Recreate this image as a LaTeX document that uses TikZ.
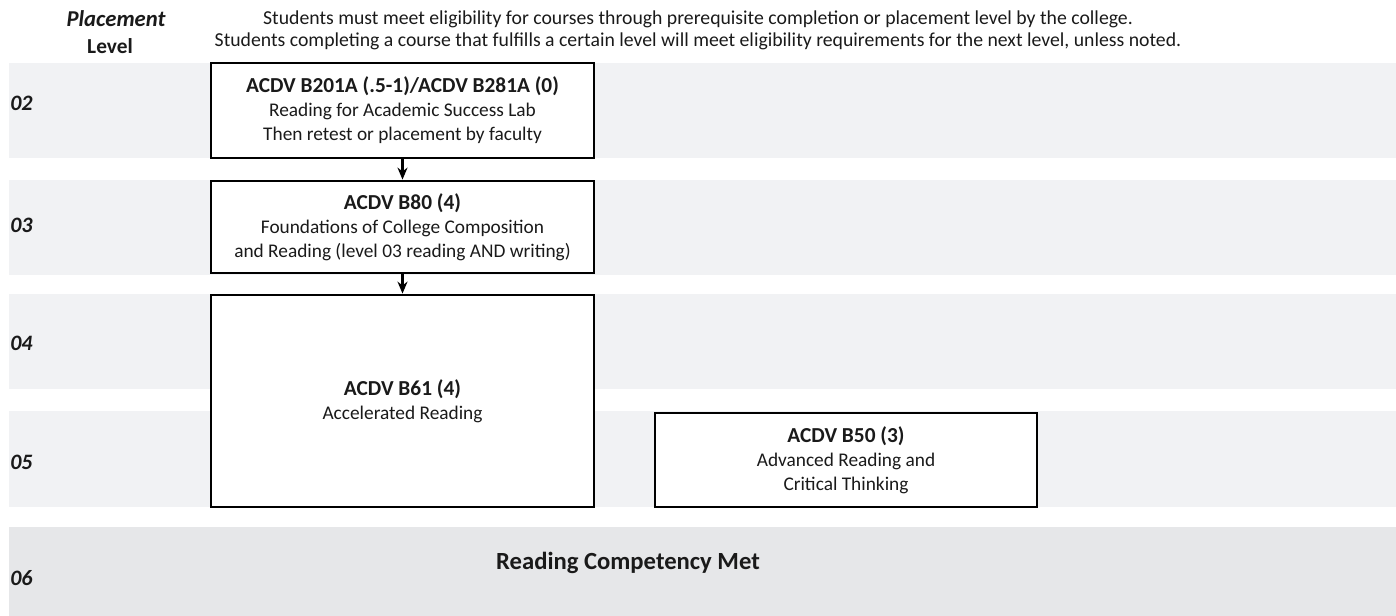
\documentclass[tikz,border=0pt]{standalone}
\usepackage{fontspec}
\setmainfont{Carlito}
\usetikzlibrary{arrows.meta}
\definecolor{bandA}{HTML}{F1F2F4}
\definecolor{bandB}{HTML}{E6E7E9}
\definecolor{ink}{HTML}{1A1A1A}
\newcommand{\ttl}[1]{{\fontsize{16}{18}\bfseries\selectfont #1}}
\begin{document}
\begin{tikzpicture}[x=0.75pt,y=-0.75pt,
  box/.style={draw=black, line width=2.1pt, fill=white, inner sep=0pt, align=center,
    font=\fontsize{14.5}{18}\selectfont, text=ink},
  lvl/.style={anchor=west, inner sep=0pt, font=\fontsize{16.5}{18}\bfseries\itshape\selectfont, text=ink},
  hdr/.style={inner sep=0pt, font=\fontsize{14.8}{16}\selectfont, text=ink},
  conn/.style={line width=1.8pt, -{Stealth[length=9pt,width=7.5pt]}}]
\useasboundingbox (0,0) rectangle (1396,616);
% bands
\fill[bandA] (9,63) rectangle (1396,158);
\fill[bandA] (9,180) rectangle (1396,275);
\fill[bandA] (9,294) rectangle (1396,389);
\fill[bandA] (9,411) rectangle (1396,507);
\fill[bandB] (9,527) rectangle (1396,616);
% header
\node[inner sep=0pt, font=\fontsize{17}{18}\bfseries\itshape\selectfont, text=ink] (hp) at (116,19) {Placement};
\node[inner sep=0pt, font=\fontsize{16}{18}\bfseries\selectfont, text=ink] (hl) at (110,46) {Level};
\node[hdr] (h1) at (698,19) {Students must meet eligibility for courses through prerequisite completion or placement level by the college.};
\node[hdr] (h2) at (698,41) {Students completing a course that fulfills a certain level will meet eligibility requirements for the next level, unless noted.};
% level labels
\node[lvl] (l02) at (10,103) {02};
\node[lvl] (l03) at (10,225) {03};
\node[lvl] (l04) at (10,343) {04};
\node[lvl] (l05) at (10,462) {05};
\node[lvl] (l06) at (10,578) {06};
% boxes
\node[box, minimum width=287.25pt, minimum height=71.25pt] (b1) at (402.5,110.5)
  {\ttl{ACDV B201A (.5-1)/ACDV B281A (0)}\\Reading for Academic Success Lab\\Then retest or placement by faculty};
\node[box, minimum width=287.25pt, minimum height=69pt] (b2) at (402.5,227)
  {\ttl{ACDV B80 (4)}\\Foundations of College Composition\\and Reading (level 03 reading AND writing)};
\node[box, minimum width=287.25pt, minimum height=159pt] (b3) at (402.5,401)
  {\ttl{ACDV B61 (4)}\\Accelerated Reading};
\node[box, minimum width=286.5pt, minimum height=70.5pt] (b4) at (846,460)
  {\ttl{ACDV B50 (3)}\\Advanced Reading and\\Critical Thinking};
\node[inner sep=0pt, font=\fontsize{18.5}{20}\bfseries\selectfont, text=ink] (rc) at (628,563) {Reading Competency Met};
% connectors
\draw[conn] (b1.south) -- (b2.north);
\draw[conn] (b2.south) -- (b3.north);
\end{tikzpicture}
\end{document}
